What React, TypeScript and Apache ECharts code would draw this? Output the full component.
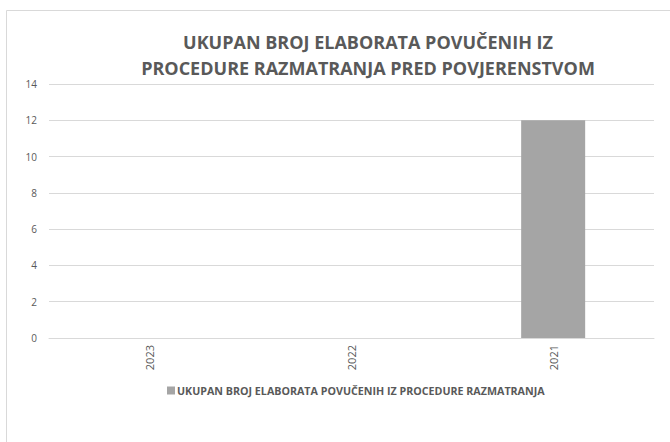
import React, { useEffect, useRef } from "react";
import * as echarts from "echarts";

const categories = ["2023", "2022", "2021"];
const values = [0, 0, 12];
const seriesName = "UKUPAN BROJ ELABORATA POVUČENIH IZ PROCEDURE RAZMATRANJA";
const titleText = "UKUPAN BROJ ELABORATA POVUČENIH IZ\nPROCEDURE RAZMATRANJA PRED POVJERENSTVOM";

export default function App() {
  const ref = useRef<HTMLDivElement>(null);
  useEffect(() => {
    if (!ref.current) return;
    const chart = echarts.init(ref.current, undefined, { renderer: "svg" });
    chart.setOption({
      animation: false,
      backgroundColor: "#ffffff",
      graphic: [
        {
          type: "rect",
          shape: { x: 6.5, y: 10.5, width: 700, height: 500 },
          style: { fill: "none", stroke: "#d9d9d9", lineWidth: 1 },
          silent: true,
        },
      ],
      title: {
        text: titleText,
        left: 363,
        textAlign: "center",
        top: 24,
        textStyle: {
          fontFamily: "Open Sans",
          fontWeight: "bold",
          fontSize: 18,
          color: "#595959",
          lineHeight: 26,
        },
      },
      grid: { left: 49, right: 16, top: 84, bottom: 104, containLabel: false },
      xAxis: {
        type: "category",
        data: categories,
        axisLine: { show: true, lineStyle: { color: "#d9d9d9" } },
        axisTick: { show: false },
        axisLabel: {
          rotate: 90,
          margin: 7,
          fontFamily: "Open Sans",
          fontSize: 11,
          color: "#595959",
        },
      },
      yAxis: {
        type: "value",
        min: 0,
        max: 14,
        interval: 2,
        axisLine: { show: false },
        axisTick: { show: false },
        axisLabel: { margin: 12, fontFamily: "Open Sans", fontSize: 10, color: "#595959" },
        splitLine: { lineStyle: { color: "#d9d9d9" } },
      },
      legend: {
        data: [seriesName],
        top: 380,
        left: 162,
        icon: "rect",
        itemWidth: 8,
        itemHeight: 8,
        itemGap: 4,
        textStyle: {
          fontFamily: "Open Sans",
          fontWeight: "bold",
          fontSize: 10.7,
          color: "#595959",
          padding: [0, 0, 0, -3],
        },
      },
      series: [
        {
          name: seriesName,
          type: "bar",
          data: values,
          barWidth: 64,
          itemStyle: { color: "#a5a5a5" },
        },
      ],
    });
    return () => chart.dispose();
  }, []);
  return (
    <div
      ref={ref}
      style={{ position: "absolute", left: 0, top: 0, width: 670, height: 442 }}
    />
  );
}
